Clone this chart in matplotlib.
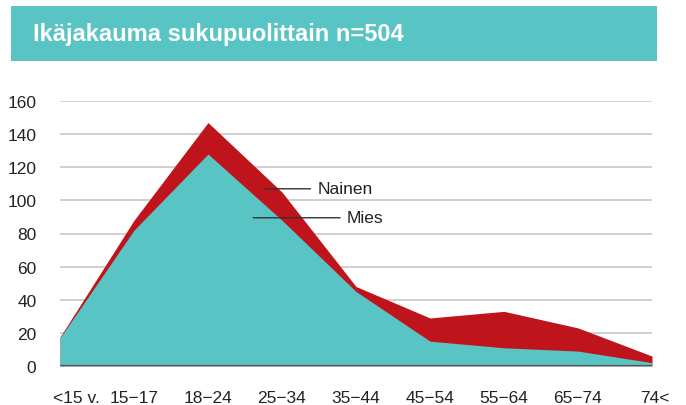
import matplotlib
matplotlib.use("Agg")
import matplotlib.pyplot as plt
import matplotlib.transforms as mtransforms
from matplotlib.patches import Rectangle

categories = ["<15 v.", "15−17", "18−24", "25−34", "35−44", "45−54", "55−64", "65−74", "74<"]
mies = [17, 82, 128, 88, 45, 15, 11, 9, 2]
nainen = [0.5, 6, 19, 17, 3, 14, 22, 14, 4]
yticks = [0, 20, 40, 60, 80, 100, 120, 140, 160]
title = "Ikäjakauma sukupuolittain n=504"

TEAL = "#59C4C4"
RED = "#C0141C"

plt.rcParams['font.family'] = ['Liberation Sans', 'DejaVu Sans']

fig = plt.figure(figsize=(6.86, 4.06), dpi=100)
W, H = 686, 406

# banner
fig.patches.append(Rectangle((11 / W, 1 - 62 / H), (657 - 11) / W, (62 - 7) / H,
                             transform=fig.transFigure, facecolor=TEAL, edgecolor='none'))
fig.text(33 / W, 1 - 35 / H, title, color='white', fontsize=17, fontweight='bold',
         va='center', ha='left')

ax = fig.add_axes([60 / W, 1 - 367 / H, (652 - 60) / W, (367 - 102) / H])
x = list(range(len(categories)))
total = [m + n for m, n in zip(mies, nainen)]
ax.fill_between(x, 0, total, color=RED, linewidth=0, zorder=2)
ax.fill_between(x, 0, mies, color=TEAL, linewidth=0, zorder=3)

ax.set_xlim(0, len(categories) - 1)
ax.set_ylim(0, 160)
ax.set_yticks(yticks)
for yv in yticks[1:]:
    ax.axhline(yv, color='#c8c8c8', linewidth=1.2, zorder=1)
ax.axhline(0, color='#555555', linewidth=1.6, zorder=4)

for s in ax.spines.values():
    s.set_visible(False)
ax.tick_params(axis='both', length=0, labelsize=12.5, colors='#222222')
ax.tick_params(axis='y', pad=17)
ax.tick_params(axis='x', pad=17)
ax.set_xticks(x)
ax.set_xticklabels(categories)
labels = ax.get_xticklabels()
labels[0].set_ha('left')
labels[0].set_transform(labels[0].get_transform() +
                        mtransforms.ScaledTranslation(-7 / 100, 0, fig.dpi_scale_trans))
labels[-1].set_transform(labels[-1].get_transform() +
                         mtransforms.ScaledTranslation(3 / 100, 0, fig.dpi_scale_trans))
for lab in ax.get_yticklabels():
    lab.set_ha('right')

# annotations
ax.annotate("Nainen", xy=(2.77, 107), xytext=(3.48, 107), fontsize=12.5, va='center',
            color='#222222',
            arrowprops=dict(arrowstyle='-', color='#333333', lw=1.0, shrinkA=3, shrinkB=0))
ax.annotate("Mies", xy=(2.61, 89.5), xytext=(3.88, 89.5), fontsize=12.5, va='center',
            color='#222222',
            arrowprops=dict(arrowstyle='-', color='#333333', lw=1.0, shrinkA=3, shrinkB=0))

fig.savefig("out.png", dpi=100)
